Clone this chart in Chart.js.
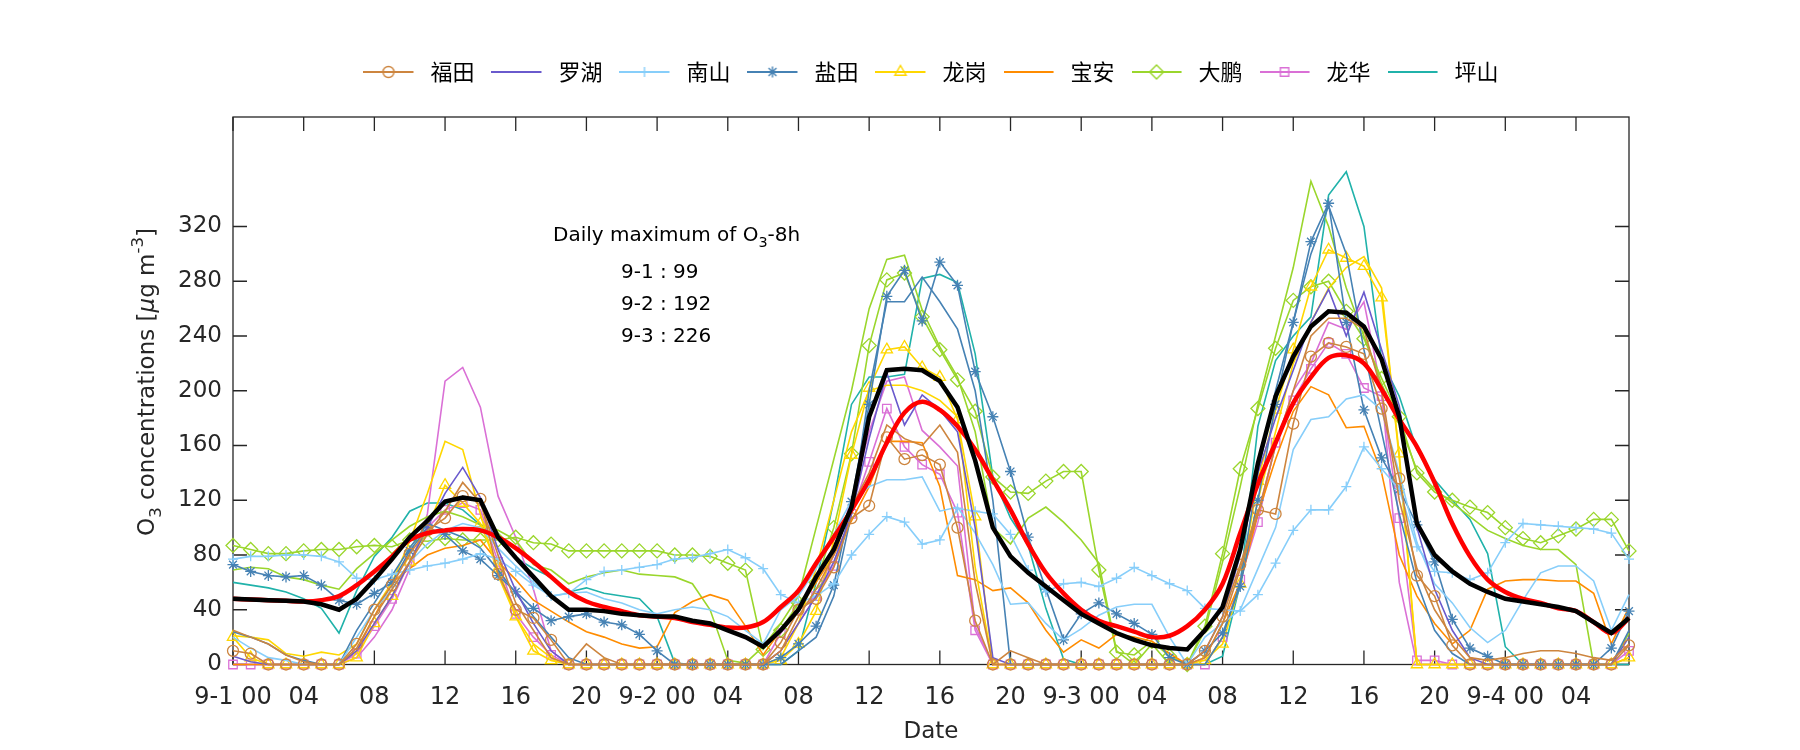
<!DOCTYPE html>
<html>
<head>
<meta charset="utf-8">
<script src="https://cdn.jsdelivr.net/npm/chart.js@4.4.1/dist/chart.umd.min.js"></script>
<style>
  html, body { margin: 0; background: #fff; }
  #wrap { width: 1800px; height: 750px; }
</style>
</head>
<body>
<div id="wrap"><canvas id="c"></canvas></div>
<script>
// Hours since 9-1 00:00
const hours = Array.from({length: 80}, (_, i) => i);

// Tick labels
const xTickValues = [0, 4, 8, 12, 16, 20, 24, 28, 32, 36, 40, 44, 48, 52, 56, 60, 64, 68, 72, 76];
const xTickLabels = ['9-1 00', '04', '08', '12', '16', '20', '9-2 00', '04', '08', '12', '16', '20',
                     '9-3 00', '04', '08', '12', '16', '20', '9-4 00', '04'];
const yTickValues = [0, 40, 80, 120, 160, 200, 240, 280, 320];

// Station series (ug/m3), hourly
const futian = [10,8,0,0,0,0,0,15,40,58, 81,98,107,123,121,66,40,34,18,0, 0,0,0,0,0,0,0,0,0,0,
  0,16,40,48,71,107,116,166,150,153, 146,100,32,0,0,0,0,0,0,0, 0,0,0,0,0,10,35,73,113,110,
  176,225,235,232,227,187,136,65,50,14, 0,0,0,0,0,0,0,0,0,14];
const futian2 = [25,20,15,7,2,0,0,12,35,55, 75,95,112,133,118,80,45,25,5,0, 15,5,0,0,0,0,0,0,0,0,
  0,10,35,55,80,115,140,175,165,160, 175,155,60,0,10,5,0,0,0,0, 0,0,0,0,0,5,30,70,110,160,
  200,240,253,253,245,200,120,70,40,20, 5,3,5,8,10,10,8,5,3,15];
const luohu = [6,2,0,0,0,0,0,10,30,50, 75,100,125,144,122,84,54,30,10,0, 0,0,0,0,0,0,0,0,0,0,
  0,10,30,50,75,110,165,213,175,197, 186,170,100,5,0,0,0,0,0,0, 0,0,0,0,0,10,35,80,140,180,
  215,250,274,240,272,230,189,100,55,25, 5,0,0,0,0,0,0,0,0,20];
const nanshan = [77,79,79,80,80,79,75,63,62,66, 69,72,74,77,81,77,68,58,50,52, 62,68,69,71,73,77,78,81,84,78,
  70,51,45,50,59,80,95,108,104,88, 91,114,112,110,95,69,53,59,60,57, 63,71,65,59,54,41,40,39,51,74,
  98,113,113,130,159,143,128,86,68,67, 62,67,89,103,102,101,100,99,96,77];
const nanshan2 = [20,12,5,3,0,0,0,20,40,55, 75,88,98,103,100,85,72,60,50,52, 53,48,45,40,37,40,42,40,35,25,
  15,40,50,70,95,120,130,135,135,137, 112,115,96,73,44,45,30,18,26,36, 42,44,44,20,0,20,30,40,70,100,
  157,179,181,194,197,186,140,89,59,45, 27,16,25,47,67,72,72,61,25,51];
const yantian = [73,68,65,64,65,58,47,44,52,60, 83,100,95,83,77,65,53,41,32,35, 37,31,29,22,10,0,0,0,0,0,
  0,5,15,28,58,119,190,269,288,251, 294,277,214,181,141,93,55,18,37,45, 37,30,22,5,0,10,23,57,120,190,
  250,309,337,250,186,151,128,102,75,33, 12,6,0,0,0,0,0,0,12,39];
const yantian2 = [24,20,15,7,3,0,0,25,45,65, 85,103,98,93,85,69,52,35,20,5, 0,0,0,0,0,0,0,0,0,0,
  0,0,10,20,50,110,200,265,265,283, 265,245,200,120,0,0,0,0,0,0, 0,0,0,0,0,0,20,60,140,200,
  250,300,335,300,230,170,110,60,25,8, 0,0,0,0,0,0,0,0,0,25];
const longgang = [20,5,0,0,0,0,0,5,30,50, 75,100,131,118,103,70,35,10,3,0, 0,0,0,0,0,0,0,0,0,0,
  0,3,15,39,91,153,202,230,232,217, 210,179,108,0,0,0,0,0,0,0, 0,0,0,0,0,3,15,59,134,186,
  230,276,303,297,291,268,154,0,0,0, 0,0,0,0,0,0,0,0,0,5];
const longgang2 = [21,20,18,8,6,9,7,15,40,60, 90,125,163,157,110,65,35,15,5,0, 0,0,0,0,0,0,0,0,0,0,
  0,5,30,70,120,170,200,204,204,200, 193,181,71,0,0,0,0,0,0,0, 0,0,0,0,0,0,20,60,120,170,
  220,250,275,290,298,275,150,0,0,0, 0,0,0,0,0,0,0,0,0,5];
const baoan = [0,0,0,0,0,0,0,10,35,60, 70,80,85,87,91,75,62,47,39,31, 24,20,15,12,13,38,46,51,47,28,
  7,25,40,60,80,105,130,163,163,162, 130,65,62,54,56,45,25,9,18,12, 22,20,17,8,0,5,30,60,110,150,
  185,203,197,173,174,140,80,50,30,15, 25,55,61,62,62,61,61,52,15,42];
const dapeng = [87,84,81,81,83,84,84,86,87,86, 91,90,92,91,91,91,93,89,88,83, 83,83,83,83,83,80,80,79,74,69,
  11,25,45,60,100,154,233,281,286,254, 230,208,185,137,126,125,134,141,141,69, 9,7,17,6,0,28,81,143,187,231,
  266,276,280,258,238,209,181,140,126,120, 115,111,100,92,89,94,99,106,106,83];
const dapeng2 = [69,71,70,64,62,58,55,70,81,91, 101,108,112,108,102,98,91,73,69,59, 64,67,69,66,65,64,59,40,3,1,
  13,30,50,100,150,200,260,296,299,259, 232,210,170,100,88,107,115,104,91,74, 10,0,15,0,0,25,75,130,190,240,
  290,353,320,275,240,205,176,142,128,118, 108,98,92,87,84,84,73,0,0,23];
const longhua = [0,0,0,0,0,0,0,8,28,48, 75,100,113,118,113,75,37,20,7,0, 0,0,0,0,0,0,0,0,0,0,
  0,23,40,50,72,110,148,187,159,146, 139,111,25,0,0,0,0,0,0,0, 0,0,0,0,0,0,20,62,104,162,
  193,216,235,227,202,196,107,3,3,0, 0,0,0,0,0,0,0,0,0,10];
const longhua2 = [0,0,0,0,0,0,0,5,20,40, 70,110,207,217,188,123,93,55,10,0, 0,0,0,0,0,0,0,0,0,0,
  0,10,30,50,80,120,170,207,210,171, 159,145,28,0,0,0,0,0,0,0, 0,0,0,0,0,0,20,60,110,160,
  200,220,250,245,265,200,60,0,0,0, 0,0,0,0,0,0,0,0,0,5];
const pingshan = [60,58,56,53,48,41,23,54,79,93, 112,118,118,113,102,91,78,70,64,53, 56,52,50,48,35,1,0,0,0,0,
  0,0,10,60,120,190,210,210,212,282, 285,279,227,137,107,87,41,4,0,0, 0,0,0,0,0,0,6,59,174,222,
  240,254,343,360,320,222,196,157,135,120, 106,81,13,0,0,0,0,0,0,0];

// City average and its 8-h running mean
const cityMean = [48,47.5,47,46.5,46,44,40,48,62,77, 93,105,119,122,120,93,78,64,50,40, 40,39,37,36,35,35,32,30,25,20,
  13,25,40,64,84,115,181,215,216,215, 207,188,149,100,79,67,57,47,37,30, 23,18,14,12,11,25,42,84,147,196,
  225,247,258,257,247,223,181,103,80,68, 59,53,48,46,44,42,39,31,23,34];
const mean8h = [48,47.5,47,46.5,46,47,50,58,68,79, 91,96,98,99,98,93,85,75,64,53, 46,42,39,36,35,34,31,29,27,27,
  31,42,54,74,93,113,135,162,184,192, 186,174,157,135,113,88,67,52,40,32, 28,24,20,21,28,40,59,96,132,162,
  191,210,224,226,220,201,179,159,133,103, 79,62,53,48,45,41,39,31,23,34];

const FONT = 'DejaVu Sans';
const AXIS_COLOR = '#262626';

// draw an open marker on a 2d context (used for legend icons)
function drawMarker(g, type, x, y, r) {
    g.beginPath();
    if (type === 'circle') {
        g.arc(x, y, r, 0, Math.PI * 2);
    } else if (type === 'cross') {
        g.moveTo(x - r, y); g.lineTo(x + r, y);
        g.moveTo(x, y - r); g.lineTo(x, y + r);
    } else if (type === 'star') {
        for (let k = 0; k < 4; k++) {
            const a = k * Math.PI / 4;
            g.moveTo(x - r * Math.cos(a), y - r * Math.sin(a));
            g.lineTo(x + r * Math.cos(a), y + r * Math.sin(a));
        }
    } else if (type === 'triangle') {
        for (let k = 0; k < 3; k++) {
            const a = k * 2 * Math.PI / 3;
            const px = x + Math.sin(a) * r, py = y - Math.cos(a) * r;
            if (k === 0) g.moveTo(px, py); else g.lineTo(px, py);
        }
        g.closePath();
    } else if (type === 'rectRot') {
        g.moveTo(x, y - r); g.lineTo(x + r, y); g.lineTo(x, y + r); g.lineTo(x - r, y);
        g.closePath();
    } else if (type === 'rect') {
        const s = r * Math.SQRT1_2;
        g.rect(x - s, y - s, 2 * s, 2 * s);
    }
    g.stroke();
}

function legendIcon(color, marker, r) {
    const cv = document.createElement('canvas');
    cv.width = 56;
    cv.height = 22;
    const g = cv.getContext('2d');
    g.strokeStyle = color;
    g.lineWidth = 1.8;
    g.beginPath();
    g.moveTo(0, 11);
    g.lineTo(50, 11);
    g.stroke();
    if (marker) {
        g.lineWidth = 1.4;
        drawMarker(g, marker, 25, 11, r);
    }
    return cv;
}

function stationSet(label, data, color, marker, r, inLegend) {
    return {
        label: label,
        data: data,
        borderColor: color,
        borderWidth: 1.6,
        tension: 0,
        pointStyle: marker || 'circle',
        pointRadius: marker ? r : 0,
        pointBorderColor: color,
        pointBackgroundColor: 'rgba(0,0,0,0)',
        pointBorderWidth: 1.3,
        clip: 14,
        order: 5,
        inLegend: inLegend,
        legendIcon: inLegend ? legendIcon(color, marker, r) : null
    };
}

const datasets = [
    { label: 'mean', data: cityMean, borderColor: '#000', borderWidth: 4.5, pointRadius: 0, tension: 0, clip: 14, order: 0 },
    { label: 'O3-8h', data: mean8h, borderColor: '#ff0000', borderWidth: 4.5, pointRadius: 0, tension: 0.35, clip: 14, order: 1 },
    stationSet('福田', futian, '#CD853F', 'circle', 5.5, true),
    stationSet('福田 2', futian2, '#CD853F', null, 0, false),
    stationSet('罗湖', luohu, '#6A5ACD', null, 0, true),
    stationSet('南山', nanshan, '#87CEFA', 'cross', 5, true),
    stationSet('南山 2', nanshan2, '#87CEFA', null, 0, false),
    stationSet('盐田', yantian, '#4682B4', 'star', 5.5, true),
    stationSet('盐田 2', yantian2, '#4682B4', null, 0, false),
    stationSet('龙岗', longgang, '#FFD700', 'triangle', 6.5, true),
    stationSet('龙岗 2', longgang2, '#FFD700', null, 0, false),
    stationSet('宝安', baoan, '#FF8C00', null, 0, true),
    stationSet('大鹏', dapeng, '#9AD62C', 'rectRot', 7, true),
    stationSet('大鹏 2', dapeng2, '#9AD62C', null, 0, false),
    stationSet('龙华', longhua, '#DA70D6', 'rect', 6, true),
    stationSet('龙华 2', longhua2, '#DA70D6', null, 0, false),
    stationSet('坪山', pingshan, '#20B2AA', null, 0, true)
];

// text with sub/superscripts
function drawRich(ctx, parts, x, y, size) {
    let cx = x;
    parts.forEach(p => {
        const small = p.sub || p.sup;
        const s = small ? size * 0.72 : size;
        ctx.font = (p.italic ? 'italic ' : '') + s + 'px "' + FONT + '"';
        const dy = p.sub ? size * 0.36 : (p.sup ? -size * 0.4 : 0);
        ctx.fillText(p.t, cx, y + dy);
        cx += ctx.measureText(p.t).width;
    });
    return cx - x;
}

function richWidth(ctx, parts, size) {
    let w = 0;
    parts.forEach(p => {
        const s = (p.sub || p.sup) ? size * 0.72 : size;
        ctx.font = (p.italic ? 'italic ' : '') + s + 'px "' + FONT + '"';
        w += ctx.measureText(p.t).width;
    });
    return w;
}

const decorPlugin = {
    id: 'decor',
    beforeDatasetsDraw(chart) {
        const {ctx, chartArea: a, scales: {x, y}} = chart;
        ctx.save();
        ctx.strokeStyle = AXIS_COLOR;
        ctx.lineWidth = 1.3;
        ctx.strokeRect(a.left, a.top, a.right - a.left, a.bottom - a.top);
        ctx.beginPath();
        xTickValues.forEach(v => {
            const px = x.getPixelForValue(v);
            ctx.moveTo(px, a.bottom); ctx.lineTo(px, a.bottom - 14);
            ctx.moveTo(px, a.top); ctx.lineTo(px, a.top + 14);
        });
        yTickValues.forEach(v => {
            const py = y.getPixelForValue(v);
            ctx.moveTo(a.left, py); ctx.lineTo(a.left + 14, py);
            ctx.moveTo(a.right, py); ctx.lineTo(a.right - 14, py);
        });
        ctx.stroke();
        ctx.restore();
    },
    afterDraw(chart) {
        const {ctx, chartArea: a} = chart;
        ctx.save();
        ctx.fillStyle = AXIS_COLOR;
        ctx.textBaseline = 'middle';
        ctx.textAlign = 'left';

        // y axis title
        const yTitle = [
            {t: 'O'}, {t: '3', sub: true}, {t: ' concentrations ['}, {t: 'μ', italic: true},
            {t: 'g m'}, {t: '-3', sup: true}, {t: ']'}
        ];
        const yw = richWidth(ctx, yTitle, 23);
        ctx.translate(148, 382);
        ctx.rotate(-Math.PI / 2);
        drawRich(ctx, yTitle, -yw / 2, 0, 23);
        ctx.setTransform(1, 0, 0, 1, 0, 0);

        // x axis title
        ctx.textAlign = 'center';
        ctx.font = '23px "' + FONT + '"';
        ctx.fillText('Date', (a.left + a.right) / 2, 732);

        // annotation
        ctx.textAlign = 'left';
        ctx.fillStyle = '#000';
        drawRich(ctx, [{t: 'Daily maximum of O'}, {t: '3', sub: true}, {t: '-8h'}], 553, 236, 20);
        ctx.font = '20px "' + FONT + '"';
        ctx.fillText('9-1 : 99', 621, 273);
        ctx.fillText('9-2 : 192', 621, 305);
        ctx.fillText('9-3 : 226', 621, 337);
        ctx.restore();
    }
};

new Chart(document.getElementById('c'), {
    type: 'line',
    data: { labels: hours, datasets: datasets },
    options: {
        responsive: true,
        maintainAspectRatio: false,
        animation: false,
        events: [],
        layout: { padding: { top: 44, right: 171, bottom: 0, left: 0 } },
        plugins: {
            tooltip: { enabled: false },
            legend: {
                position: 'top',
                fullSize: false,
                labels: {
                    usePointStyle: true,
                    pointStyleWidth: 56,
                    padding: 17,
                    color: '#000',
                    font: { family: 'Noto Sans CJK SC', size: 22 },
                    generateLabels(chart) {
                        return chart.data.datasets
                            .map((ds, i) => ({ds, i}))
                            .filter(o => o.ds.inLegend)
                            .map(o => ({
                                text: o.ds.label,
                                pointStyle: o.ds.legendIcon,
                                datasetIndex: o.i,
                                hidden: false,
                                fillStyle: 'rgba(0,0,0,0)',
                                strokeStyle: 'rgba(0,0,0,0)',
                                lineWidth: 0,
                                fontColor: '#000'
                            }));
                    }
                }
            }
        },
        scales: {
            x: {
                type: 'linear',
                position: 'bottom',
                min: 0,
                max: 79,
                afterBuildTicks: s => { s.ticks = xTickValues.map(v => ({value: v})); },
                afterFit: s => { s.height = 85.5; },
                grid: { display: false, drawTicks: false },
                border: { display: false },
                ticks: {
                    autoSkip: false,
                    maxRotation: 0,
                    padding: 19,
                    color: AXIS_COLOR,
                    font: { family: FONT, size: 24 },
                    callback: v => xTickLabels[xTickValues.indexOf(v)]
                }
            },
            xTop: {
                type: 'linear',
                position: 'top',
                min: 0,
                max: 79,
                afterFit: s => { s.height = 24; },
                ticks: { display: false },
                grid: { display: false, drawTicks: false },
                border: { display: false }
            },
            y: {
                min: 0,
                max: 400,
                afterBuildTicks: s => { s.ticks = yTickValues.map(v => ({value: v})); },
                afterFit: s => { s.width = 233; },
                grid: { display: false, drawTicks: false },
                border: { display: false },
                ticks: {
                    padding: 11,
                    color: AXIS_COLOR,
                    font: { family: FONT, size: 23 }
                }
            }
        }
    },
    plugins: [decorPlugin]
});
</script>
</body>
</html>
